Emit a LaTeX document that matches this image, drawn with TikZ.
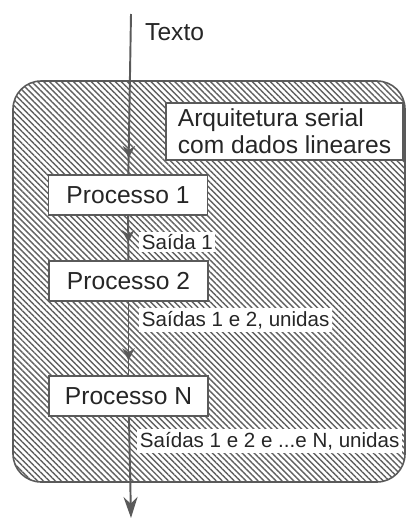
\documentclass[tikz,border=0pt]{standalone}
\usepackage{fontspec}
\setmainfont{Liberation Sans}
\usetikzlibrary{arrows.meta, decorations.markings, patterns.meta}
\definecolor{linegray}{HTML}{5A5A5A}
\definecolor{hatchgray}{HTML}{606060}
\tikzset{
    procbox/.style={draw=linegray, fill=white, line width=0.8pt, minimum width=3.18cm, minimum height=0.8cm, inner sep=0pt, font=\fontsize{14}{16}\selectfont, text=black!85},
    outlabel/.style={fill=white, inner sep=1.5pt, anchor=west, font=\fontsize{11.7}{13}\selectfont, text=black!85},
    flow/.style={draw=linegray, line width=1.1pt},
    midarrow/.style={postaction={decorate}, decoration={markings, mark=at position #1 with {\arrow{Stealth[length=7pt, width=7pt]}}}}
}

\begin{document}
\begin{tikzpicture}[x=0.02cm, y=-0.02cm]
            \useasboundingbox (0,0) rectangle (408,521);

            \draw[draw=linegray, line width=0.9pt, rounded corners=16pt,
                pattern={Lines[angle=-45, distance=2.4pt, line width=0.8pt]}, pattern color=hatchgray]
                (13,81) rectangle (405,482);

            \coordinate (top) at (131,14);
            \coordinate (bot) at (131,518);

            \node[procbox, minimum width=4.74cm, minimum height=1.14cm, align=left,
                font=\fontsize{14}{15.5}\selectfont] (title) at (284.5,131.5)
                {Arquitetura serial\\com dados lineares};

            \node[procbox] (p1) at (128,195) {Processo 1};
            \node[procbox] (p2) at (128.5,281) {Processo 2};
            \node[procbox] (pN) at (128.5,396) {Processo N};

            \draw[flow, midarrow=0.9] (top) -- (p1);
            \draw[flow, midarrow=0.6] (p1) -- (p2);
            \draw[flow, midarrow=0.8] (p2) -- (pN);
            \draw[flow, -{Stealth[length=12pt, width=8pt]}] (pN) -- (bot);

            \node[anchor=west, font=\fontsize{14}{16}\selectfont, text=black!85] (texto) at (139,32) {Texto};

            \node[outlabel] (s1) at (139,242) {Saída 1};
            \node[outlabel] (s2) at (139,320) {Saídas 1 e 2, unidas};
            \node[outlabel] (sN) at (137,441) {Saídas 1 e 2 e ...e N, unidas};

        \end{tikzpicture}
\end{document}
